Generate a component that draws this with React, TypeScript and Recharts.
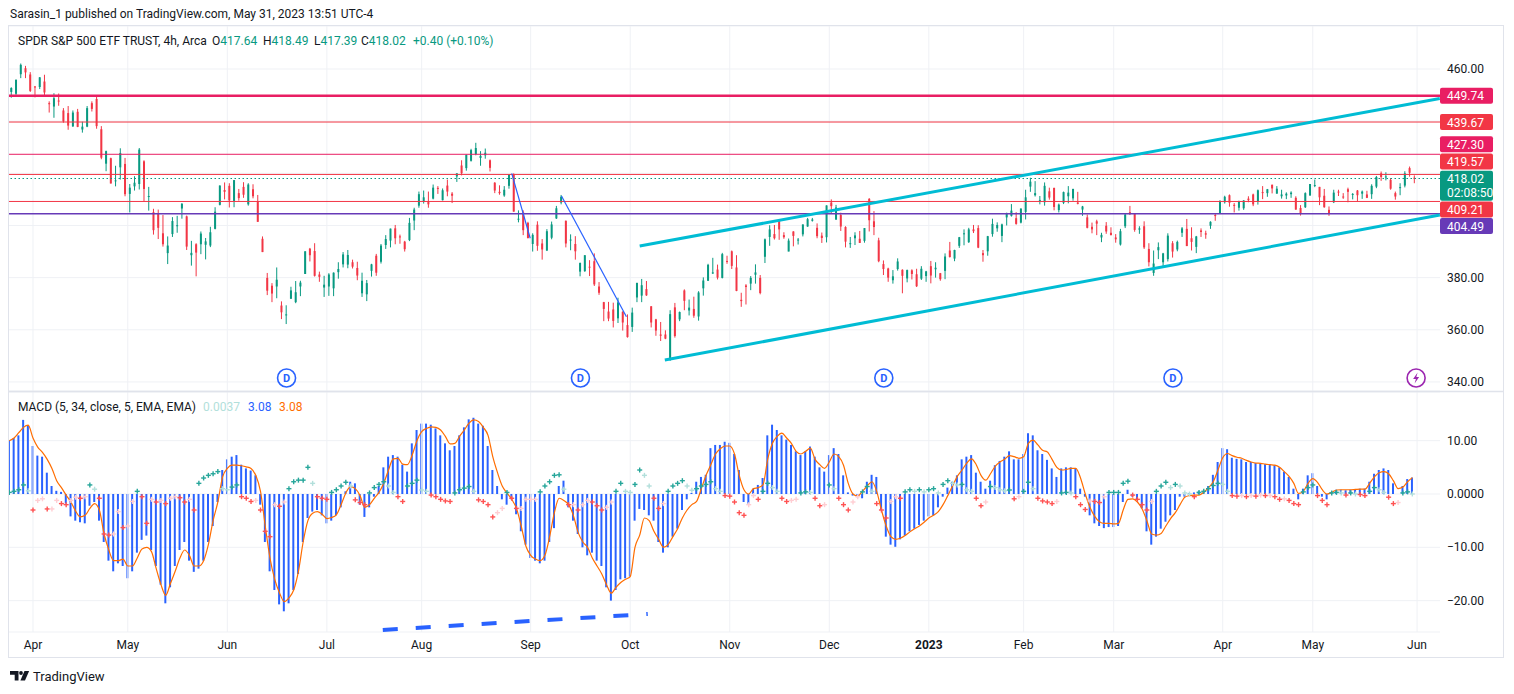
import React from 'react';
import {
  ComposedChart, Bar, Line, Scatter, XAxis, YAxis, CartesianGrid, ReferenceLine, ReferenceDot,
} from 'recharts';

const FONT = 'Roboto, "Open Sans", "DejaVu Sans", sans-serif';
const TEXT = '#131722';
const UP = '#089981';
const DOWN = '#f23645';
const GRID = '#eff1f5';

// ---------- Daily candles [open, high, low, close]; first row = trading day -5 (25 Mar 2022) ----------
const ohlcMar22 = [
  [451.2, 453.0, 449.0, 452.7], [450.5, 455.9, 449.5, 455.9], [458.0, 462.1, 456.5, 461.6], [460.3, 461.2, 456.5, 458.7], [457.9, 458.8, 451.2, 451.6],
];
const ohlcApr22 = [
  [453.3, 453.5, 449.1, 452.9], [453.1, 456.9, 452.3, 456.8], [455.2, 457.8, 449.8, 451.0], [446.9, 447.6, 443.3, 446.5], [445.6, 450.7, 441.3, 448.8],
  [447.9, 450.6, 445.9, 447.6], [444.1, 445.0, 439.4, 439.9], [443.1, 445.8, 436.7, 438.3], [438.0, 444.1, 437.8, 443.3], [443.6, 444.7, 437.7, 437.8],
  [436.8, 439.8, 435.6, 437.9], [437.9, 445.8, 437.7, 445.0], [446.9, 447.6, 443.7, 444.7], [448.5, 450.0, 437.1, 438.1], [436.9, 438.1, 425.4, 426.0],
  [423.7, 428.7, 420.8, 428.5], [425.8, 426.0, 416.1, 416.1], [417.2, 422.9, 415.0, 417.3], [422.3, 429.6, 417.6, 427.8], [423.6, 425.9, 411.2, 412.0],
];
const ohlcMay22 = [
  [412.1, 415.9, 405.0, 414.5], [415.0, 418.9, 413.4, 416.4], [415.9, 429.7, 413.8, 429.1], [424.6, 425.0, 409.4, 414.0], [411.1, 414.8, 405.7, 411.3],
  [405.1, 406.4, 396.5, 398.2], [404.5, 406.1, 394.8, 399.1], [397.0, 404.0, 391.9, 392.8], [389.4, 395.8, 385.2, 392.3], [396.7, 403.2, 395.6, 401.7],
  [399.9, 403.7, 397.2, 400.1], [406.5, 408.6, 402.6, 408.3], [403.5, 403.8, 390.6, 391.9], [388.6, 394.1, 384.6, 389.5], [392.8, 393.2, 380.5, 389.6],
  [392.8, 397.7, 389.0, 396.9], [392.6, 395.2, 387.0, 393.9], [392.3, 399.5, 391.7, 397.4], [398.7, 407.0, 398.5, 405.3], [407.9, 415.4, 407.7, 415.3],
  [413.6, 416.5, 410.0, 412.9],
];
const ohlcJun22 = [
  [415.2, 416.2, 406.9, 409.6], [409.4, 417.4, 407.0, 417.4], [412.4, 414.0, 409.5, 410.5], [414.8, 416.6, 410.6, 411.8], [408.1, 416.2, 407.6, 415.7],
  [413.9, 415.8, 410.4, 411.2], [409.3, 411.7, 401.4, 401.4], [394.9, 395.8, 389.8, 389.8], [379.9, 381.8, 373.3, 375.0], [376.9, 377.9, 370.6, 373.9],
  [376.6, 383.9, 372.1, 379.2], [369.3, 370.9, 364.1, 366.7], [365.6, 369.4, 362.2, 365.9], [371.9, 376.5, 371.8, 375.1], [370.6, 378.7, 370.2, 374.4],
  [376.6, 378.8, 372.9, 378.1], [381.4, 390.1, 381.4, 390.1], [391.1, 391.4, 386.2, 388.6], [390.2, 393.2, 380.4, 380.7], [381.2, 382.3, 378.4, 380.3],
  [376.2, 380.7, 372.6, 377.3],
];
const ohlcJul22 = [
  [376.6, 381.7, 373.0, 381.2], [375.9, 382.0, 372.9, 381.9], [382.1, 385.9, 379.6, 383.3], [385.1, 389.8, 383.9, 388.9], [385.0, 390.6, 383.6, 388.7],
  [385.9, 386.9, 383.5, 384.2], [383.7, 386.1, 379.0, 380.8], [374.0, 381.9, 372.6, 378.8], [373.6, 379.1, 371.0, 377.9], [382.6, 385.3, 380.4, 385.1],
  [388.4, 389.1, 380.7, 381.9], [386.1, 392.9, 385.4, 392.3], [392.5, 396.3, 391.0, 394.8], [394.2, 398.8, 391.6, 398.8], [398.9, 400.2, 392.8, 395.1],
  [395.8, 396.5, 393.0, 395.6], [393.8, 394.1, 390.0, 390.9], [394.4, 402.9, 394.0, 401.0], [401.9, 406.8, 398.2, 406.1], [407.6, 413.0, 406.8, 412.0],
];
const ohlcAug22 = [
  [409.2, 413.4, 408.4, 410.8], [409.1, 413.0, 406.8, 408.1], [410.3, 415.7, 410.0, 414.5], [414.4, 415.1, 412.1, 414.2], [409.7, 414.2, 409.6, 413.5],
  [415.3, 417.6, 411.2, 413.0], [412.2, 412.8, 408.6, 411.4], [418.8, 420.0, 416.7, 420.0], [423.0, 425.0, 419.2, 420.0], [422.0, 427.2, 421.0, 427.1],
  [424.8, 429.4, 424.5, 428.9], [427.4, 431.7, 426.9, 429.7], [425.9, 428.5, 422.9, 426.7], [426.9, 429.5, 425.6, 427.9], [425.0, 425.3, 420.7, 422.1],
  [416.4, 416.6, 412.4, 413.4], [412.9, 415.4, 411.8, 412.4], [411.5, 415.1, 411.0, 413.7], [415.2, 419.6, 414.1, 419.5], [419.4, 420.0, 405.3, 405.3],
  [402.2, 405.8, 401.2, 402.6], [405.0, 405.8, 396.3, 398.2], [401.0, 401.4, 395.0, 395.2],
];
const ohlcSep22 = [
  [392.9, 397.0, 390.0, 396.4], [400.3, 401.6, 390.3, 392.2], [393.1, 394.8, 386.9, 390.8], [390.4, 398.6, 390.2, 397.8], [395.3, 401.5, 394.7, 400.4],
  [402.7, 407.5, 402.5, 406.6], [408.8, 411.7, 408.1, 411.0], [401.8, 401.9, 391.6, 393.1], [394.5, 396.6, 390.5, 394.6], [392.9, 395.9, 386.9, 390.1],
  [382.3, 385.8, 380.5, 385.6], [382.5, 388.6, 382.2, 388.6], [384.2, 386.7, 380.6, 384.1], [386.3, 389.3, 376.8, 377.4], [376.6, 378.3, 373.4, 374.2],
  [370.6, 370.7, 363.3, 368.0], [367.0, 370.7, 363.3, 364.3], [367.8, 370.4, 360.9, 363.4], [364.4, 372.3, 362.6, 370.5], [366.9, 367.1, 359.7, 362.8],
  [361.8, 365.9, 357.0, 357.2],
];
const ohlcOct22 = [
  [361.1, 368.5, 359.2, 366.6], [372.4, 378.0, 370.6, 378.0], [373.1, 379.5, 370.6, 377.1], [375.6, 378.7, 373.0, 373.2], [369.0, 369.1, 360.9, 362.8],
  [364.0, 364.2, 357.7, 359.7], [358.2, 363.0, 355.7, 357.7], [358.2, 359.8, 356.4, 356.6], [349.2, 367.5, 348.1, 366.0], [368.6, 370.3, 357.0, 357.6],
  [364.0, 367.0, 363.3, 366.8], [375.1, 375.5, 367.5, 371.1], [367.4, 371.6, 365.5, 368.5], [368.0, 372.7, 364.6, 365.4], [365.1, 374.8, 363.5, 374.3],
  [375.9, 380.1, 373.1, 378.9], [378.8, 385.3, 378.7, 384.9], [381.6, 387.6, 381.4, 382.0], [383.1, 385.0, 379.3, 380.0], [379.9, 389.5, 379.7, 389.0],
  [386.4, 388.4, 385.3, 386.2],
];
const ohlcNov22 = [
  [390.1, 390.4, 383.3, 384.5], [383.9, 388.6, 374.8, 374.9], [371.5, 374.2, 368.8, 371.0], [377.0, 377.5, 369.7, 376.4], [377.7, 380.6, 375.2, 379.9],
  [381.1, 385.1, 377.7, 382.0], [379.9, 381.0, 373.6, 374.1], [388.0, 395.0, 385.6, 394.7], [395.6, 400.1, 392.2, 398.5], [396.7, 400.2, 394.6, 395.1],
  [401.7, 402.3, 394.5, 398.5], [396.3, 397.4, 394.9, 395.5], [390.0, 395.0, 390.1, 394.2], [397.7, 397.8, 392.0, 396.0], [394.6, 395.2, 392.7, 394.6],
  [396.6, 400.4, 395.8, 400.4], [399.6, 402.9, 399.5, 402.4], [401.8, 402.9, 401.5, 402.3], [399.1, 400.8, 395.1, 395.9], [396.1, 397.3, 393.3, 395.2],
  [395.5, 407.7, 393.5, 407.7],
];
const ohlcDec22 = [
  [408.8, 410.0, 404.8, 407.4], [402.3, 407.9, 402.1, 406.9], [404.0, 404.9, 397.9, 399.6], [399.4, 399.7, 391.6, 393.8], [392.9, 395.6, 391.4, 393.2],
  [395.1, 397.4, 392.5, 396.2], [394.9, 397.9, 393.3, 393.3], [394.1, 399.0, 393.4, 399.0], [410.2, 410.5, 397.7, 402.0], [401.6, 405.5, 396.3, 399.4],
  [394.3, 395.3, 385.9, 386.3], [385.2, 386.6, 381.0, 383.3], [383.5, 383.8, 378.4, 380.0], [379.0, 382.9, 377.7, 380.5], [383.3, 387.4, 382.7, 386.2],
  [383.0, 383.2, 374.0, 380.7], [379.7, 383.1, 378.2, 382.9], [382.8, 383.2, 379.3, 381.4], [381.3, 383.4, 376.4, 376.7], [379.6, 384.4, 379.1, 383.4],
  [380.6, 382.6, 378.4, 382.4],
];
const ohlcJan23 = [
  [384.4, 386.4, 377.8, 380.8], [383.2, 385.9, 380.0, 383.8], [381.7, 381.8, 378.8, 379.4], [382.6, 389.3, 379.4, 388.1], [390.4, 393.7, 387.7, 387.9],
  [387.3, 390.7, 386.3, 390.6], [392.2, 395.6, 391.4, 395.5], [396.7, 398.5, 392.4, 397.0], [393.6, 399.1, 393.3, 398.5], [398.5, 400.2, 397.1, 397.8],
  [399.0, 400.1, 391.3, 391.5], [389.4, 390.6, 386.1, 388.6], [390.1, 396.0, 388.4, 395.9], [396.7, 402.6, 395.7, 400.6], [398.9, 401.2, 397.6, 400.2],
  [396.0, 400.7, 393.6, 400.4], [403.1, 404.9, 400.0, 404.8], [403.7, 408.2, 403.4, 405.7], [402.8, 405.1, 400.3, 400.6], [401.1, 406.5, 400.8, 406.5],
];
const ohlcFeb23 = [
  [405.2, 413.7, 402.3, 410.8], [414.9, 418.3, 412.9, 416.8], [411.6, 417.0, 411.1, 412.4], [409.8, 411.3, 408.1, 409.8], [408.9, 416.5, 407.6, 415.2],
  [413.1, 414.5, 409.9, 410.7], [414.4, 414.5, 405.8, 407.1], [405.9, 408.4, 405.0, 408.0], [408.7, 413.0, 408.2, 412.8], [411.2, 415.1, 408.5, 412.6],
  [410.4, 414.1, 409.5, 414.0], [408.8, 412.9, 408.1, 408.3], [406.1, 407.5, 403.7, 407.3], [403.1, 404.2, 398.9, 399.1], [399.5, 401.1, 397.0, 398.5],
  [401.6, 402.2, 396.3, 400.7], [395.4, 397.2, 393.6, 396.4], [399.9, 401.3, 396.8, 397.7], [397.2, 399.3, 396.2, 396.3],
];
const ohlcMar23 = [
  [395.4, 396.7, 393.4, 394.7], [392.7, 398.7, 392.3, 397.8], [399.7, 404.5, 399.0, 404.2], [405.1, 407.5, 404.0, 404.5], [404.4, 404.7, 397.6, 398.3],
  [398.4, 399.7, 396.8, 398.9], [399.7, 401.6, 391.0, 391.6], [391.0, 393.2, 384.3, 385.9], [381.8, 390.4, 380.7, 385.4], [390.5, 393.5, 387.1, 391.7],
  [385.9, 389.5, 383.7, 389.3], [387.1, 397.0, 386.2, 396.1], [393.2, 394.0, 387.7, 390.0], [390.8, 394.2, 390.1, 393.7], [397.2, 399.4, 395.6, 398.9],
  [398.7, 402.5, 392.1, 392.1], [395.1, 399.3, 390.4, 393.7], [391.8, 396.0, 389.4, 395.8], [398.1, 398.9, 395.6, 397.5], [397.0, 398.0, 394.9, 396.5],
  [399.9, 401.6, 398.7, 401.4], [404.0, 404.6, 401.8, 403.7], [404.7, 409.7, 404.5, 409.4],
];
const ohlcApr23 = [
  [408.9, 411.4, 408.4, 411.0], [411.6, 411.9, 407.2, 408.7], [407.9, 408.6, 405.0, 407.6], [406.8, 409.5, 405.7, 409.2], [406.6, 409.7, 406.0, 409.6],
  [410.3, 411.2, 408.9, 409.7], [411.9, 412.2, 407.4, 408.1], [409.2, 413.8, 408.0, 413.5], [412.8, 415.1, 410.1, 412.5], [412.4, 414.0, 411.0, 413.9],
  [415.6, 415.7, 412.3, 414.2], [412.2, 415.1, 412.2, 414.1], [411.2, 413.7, 410.3, 411.9], [411.5, 412.7, 410.1, 412.2], [412.0, 413.1, 410.6, 412.6],
  [410.6, 411.2, 406.0, 406.1], [406.7, 407.8, 403.8, 404.4], [407.0, 412.7, 406.7, 412.4], [411.5, 415.9, 411.4, 415.9],
];
const ohlcMay23 = [
  [415.5, 417.6, 414.7, 415.5], [414.8, 414.8, 407.8, 410.8], [411.4, 414.0, 406.8, 407.0], [406.0, 407.3, 403.7, 404.4], [408.9, 413.7, 408.6, 412.6],
  [413.0, 413.7, 411.3, 412.9], [411.1, 412.4, 410.2, 411.0], [413.9, 414.5, 408.9, 412.9], [412.0, 412.4, 410.0, 412.1], [413.4, 413.6, 409.2, 411.6],
  [412.2, 413.4, 410.2, 413.0], [411.9, 413.3, 410.5, 410.6], [412.0, 415.8, 410.2, 415.2], [414.9, 419.0, 414.3, 418.6], [420.0, 420.7, 417.1, 418.6],
  [418.6, 420.4, 417.3, 418.8], [417.5, 418.2, 413.7, 414.1], [412.4, 413.0, 409.9, 411.1], [414.7, 416.2, 411.6, 414.7], [415.3, 420.8, 414.6, 420.0],
  [422.0, 422.6, 418.7, 420.2], [418.3, 419.2, 416.2, 418.02],
];

// ---------- MACD (5, 34, close, 5): MACD (blue columns), signal (orange), histogram (crosses) ----------
const macdMar22 = [10.1, 10.5, 11, 13.9, 12.9];
const macdApr22 = [9, 7.2, 7, 4, 1.5, 0.6, 0.4, -1.8, -4.2, -5, -5.3, -5.5, -2.2, -1.5, -5, -9, -12.5, -14.5, -13, -13.5];
const macdMay22 = [-15.8, -14.5, -11, -8.6, -7.8, -10.5, -13.5, -17, -20.5, -17.5, -13.5, -10.5, -9, -12.5, -14.6, -14, -12.5, -9, -6, -1.5, 4.5];
const macdJun22 = [6.5, 7, 7.3, 5.5, 4.8, 4.4, 3.5, -2, -9, -14.5, -18, -20.7, -22, -20.5, -18, -15, -9, -4.5, -3.3, -3, -4];
const macdJul22 = [-5.5, -5, -4, -2.5, 0.5, 2.3, 2, -2, -4.3, -2.5, -0.5, 1.5, 5, 7, 7.3, 7, 5.5, 4.2, 9.5, 12];
const macdAug22 = [13.2, 13.2, 13, 12.3, 11, 9.5, 8.2, 9, 11, 12.5, 14, 14.3, 13.2, 12.8, 9, 4.5, 1.5, -1, -2, -1, -3.8, -7, -9.5];
const macdSep22 = [-12, -12.5, -13, -12.5, -9, -6.4, 1.5, 2.5, -2.5, -5, -7.5, -10, -11.5, -11, -12.5, -13.5, -17.5, -20, -18, -16, -15.8];
const macdOct22 = [-15.5, -5, -2.8, -3, -4, -5, -9, -11, -10, -8, -6.5, -3, -1, 0.2, 2.3, 3.2, 3.6, 8.6, 9.2, 9.2, 9.8];
const macdNov22 = [9.6, 7.5, 4.5, -1.5, -1.8, 1, 1.7, 3, 11, 13, 12, 11, 10.2, 9.2, 8, 7.3, 8, 8.9, 7, 5, 4.2];
const macdDec22 = [7.3, 8.6, 7.5, 3.5, 0.3, -0.3, -0.6, -0.8, 2.3, 3.6, 3.2, -3, -8, -9.5, -9.9, -8.5, -7.8, -7, -6.5, -5.8, -5];
const macdJan23 = [-4.2, -4, -2.5, -0.5, 1.2, 2.3, 3.5, 6.5, 7, 7.3, 4, 2.3, 1, 2.5, 5.4, 6.2, 7, 8, 6.5, 6.5];
const macdFeb23 = [7.5, 11.4, 11, 8.2, 7.5, 6.4, 4.8, 3.2, 4.8, 5, 5, 4.8, 1, -0.5, -4, -5.5, -6, -6.4, -6.2];
const macdMar23 = [-6.2, -6, -1.5, 0.8, -0.5, -1, -2.7, -7, -9.5, -8, -6.5, -5.2, -4, -3, -0.5, -0.5, 0.2, 0.3, 0.5, 0.6, 1.5, 3.6, 6];
const macdApr23 = [8.6, 8.4, 6.8, 6.6, 6.5, 6, 6, 5.8, 5.7, 5.6, 5.6, 5.4, 5, 4.2, 3.2, 1, -1, 1, 3.5];
const macdMay23 = [3.9, 1.5, -0.5, -1, 0.4, 0.8, 0.8, 0.7, 0.8, 0.9, 1, 1, 2.3, 3.8, 4.5, 4.8, 4.5, 2, 0, 1.5, 2.8, 3.08];

const sigMar22 = [10, 10.5, 11.5, 12.5, 12.9];
const sigApr22 = [10.5, 8.8, 7.8, 6.5, 4.8, 2.5, 1.2, -0.2, -1.5, -3.2, -4.3, -4, -2.7, -1.8, -3, -7.5, -10.5, -12.5, -12.5, -12.2];
const sigMay22 = [-13.5, -13.5, -12, -10.3, -10, -10.8, -14, -17, -19, -16.8, -14.5, -12, -10.5, -11.5, -13.5, -13.5, -12.5, -9.5, -5, -1.5, 3.2];
const sigJun22 = [4.8, 5.4, 5.4, 5.3, 5.1, 4.8, 3.5, 0.5, -6, -12, -16, -18.5, -20.2, -19.5, -18, -14.5, -9, -5, -3.6, -3.3, -3.8];
const sigJul22 = [-4.6, -4.4, -3.9, -2, 0.2, 1.4, 1, -0.3, -2.5, -2, -0.8, 0.3, 2, 4.5, 6.6, 6.7, 5.6, 5.5, 7.3, 10];
const sigAug22 = [11.7, 12.3, 12.6, 12.5, 12, 10.8, 9.4, 9.5, 10.8, 12, 13.3, 13.9, 13.6, 12.5, 11, 7, 4, 1.5, 0.2, -1, -2.7, -6, -9.8];
const sigSep22 = [-11.5, -12.2, -12.5, -11.5, -8, -3.5, -0.8, -1.2, -2, -4, -7.2, -9, -10, -12, -13.5, -15, -17, -18.6, -17.5, -16.6, -16];
const sigOct22 = [-15.5, -10, -7.7, -4.5, -5, -7, -8.5, -10, -9.5, -8, -6.5, -4.5, -3, -2, -1.4, 1, 3.5, 5.5, 7.5, 8.5, 9];
const sigNov22 = [9, 7.5, 3.5, 0.8, 0, 1, 1.2, 1.7, 6.5, 9.5, 10.8, 11.4, 10.5, 9.5, 8, 7.5, 8, 8.6, 6.5, 5.5, 4.8];
const sigDec22 = [6, 7.5, 7, 5.4, 2, 0, -0.4, 0.5, 1.5, 2.3, 0.5, -3, -6, -8, -8.5, -8.3, -7.8, -7.1, -6.5, -6, -5.3];
const sigJan23 = [-4.5, -4, -3.3, -2, -0.3, 1.5, 3.3, 4.5, 5.8, 6.6, 5.5, 3.5, 2.6, 3.8, 5.2, 6, 6.5, 7.2, 7, 6.7];
const sigFeb23 = [7, 9.5, 10.1, 9.2, 8.2, 7.9, 6.5, 5, 4.5, 4.6, 4.8, 4.8, 3, 0, -2.5, -4.2, -5.2, -5.5, -5.5];
const sigMar23 = [-5.6, -5.5, -3, -1, -0.9, -1.5, -2.8, -5, -7.5, -7.7, -7.4, -6, -4.6, -3.5, -2, -0.6, -0.3, -0.2, -0.2, 0.3, 1.2, 2.3, 4.5];
const sigApr23 = [6.8, 7.6, 7.2, 6.9, 6.7, 6.3, 6, 5.8, 5.75, 5.6, 5.5, 5.4, 5, 4.2, 3.3, 2, 0.1, 0.5, 2];
const sigMay23 = [2.9, 2.2, 0.8, 0, 0.3, 0.75, 0.8, 0.8, 0.8, 0.85, 0.9, 0.9, 2, 3.2, 4, 4.2, 3.8, 2.5, 1, 1.3, 2.3, 3.08];

const histMar22 = [0.3, 0.5, 0.8, 1.7, 0.6];
const histApr22 = [-3, -1.2, -0.9, -2.8, -2.8, -1.2, -1.8, -2, -1.2, -0.6, -0.8, -0.5, 1.7, 0.9, -0.8, -7.5, -7.7, -7.5, -3.3, -6.3];
const histMay22 = [-6, -1.4, 0.5, -0.5, -5.5, -1, -1.5, -1.2, -1.8, -0.8, -0.5, -0.7, -1.5, -1, -3, 2, 3, 3.5, 3.8, 4.2, 1];
const histJun22 = [0.8, 1.3, 1.7, -0.5, -0.8, -1.4, -1.2, -3, -7, -8, -2, -2.3, -1.5, 1, 2.3, 2.6, 2.6, 5, 2, -0.5, -0.8];
const histJul22 = [-1, 0.3, 0.8, 1.5, 2.2, 1.5, -1.1, -1.6, -2, 0.2, 1.2, 1.8, 2.3, 1.5, 0.3, -0.5, -1.4, 1.5, 2, 2.6];
const histAug22 = [0.75, 0.5, -0.2, -0.5, -1, -1.3, -1.4, 0.2, 0.8, 1.1, 1.4, 0.5, -1.1, -1.4, -2, -4.3, -3.5, -2.7, 0.3, -0.8, -2.7, -2.7, -1];
const histSep22 = [-1, -1, 0.4, 1.5, 2.3, 3.5, 3.6, 0.9, -2, -2, -3, -2, -1.2, -1.5, -2.2, -3, -2.5, -1.5, 0.5, 2, 0.5];
const histOct22 = [0.3, 1.8, 4.5, 3.5, 1.5, -0.8, -2.7, -1.8, 0.5, 1.5, 2, 2.5, 1.5, 0.7, 1, 1.5, 1.8, 2.3, 1, 0.5, -0.3];
const histNov22 = [-0.4, -1.5, -3.5, -4, -2, -0.3, -1, 0.5, 2, 1.2, 0.5, -0.8, -1.4, -1.2, -1, 0.2, 0.4, 0.3, -0.8, -2.2, -2];
const histDec22 = [1.7, 1, -0.8, -2, -3, -1.5, -0.5, 0.4, 1.4, 0.5, -1.8, -3, -4.5, -1.4, -0.5, -0.8, 0.4, 0.8, 0.5, 0.8, 0.4];
const histJan23 = [0.8, 1, 0.2, 1.8, 2.5, 2, 1.7, 1.8, 0.8, 0.5, -0.8, -2.2, -1.5, 1.4, 1.2, 0.8, 0.6, 0.75, -0.9, -0.5];
const histFeb23 = [0.5, 2.2, 1, -0.8, -1.3, -1.5, -1.8, -1.4, 0.2, 0.3, 0.2, -0.5, -2, -2.9, -1.3, -1.4, -1.6, -0.5, 0.3];
const histMar23 = [0.3, 0.3, 2, 2.4, -0.2, -1, -2, -3, -1.4, 0.5, 1.5, 2.2, 1.2, 1.8, 1.5, 0.2, 0, -0.5, 0.3, 0.5, 1, 1.6, 2];
const histApr23 = [1.8, 0.5, -0.3, -0.4, -0.3, -0.5, -0.3, -0.4, -0.2, -0.3, -0.3, -0.5, -1, -0.9, -1.2, -1.8, -2, 0.4, 1.2];
const histMay23 = [1.7, -0.3, -1.2, -2, 0.2, 0.3, 0.2, -0.2, 0.2, 0, -0.1, -0.3, 0.5, 1.2, 0.8, 0.3, -0.6, -1.8, -1.6, 0.2, 0.4, 0.0037];

// ---------- axes / annotations ----------
const FIRST_DAY = -5;
const monthTicks = [0, 20, 41, 62, 82, 105, 126, 147, 168, 189, 209, 228, 251, 270, 292];
const monthLabels = ['Apr', 'May', 'Jun', 'Jul', 'Aug', 'Sep', 'Oct', 'Nov', 'Dec', '2023', 'Feb', 'Mar', 'Apr', 'May', 'Jun'];
const priceTicks = [340, 360, 380, 400, 420, 440, 460];
const priceTickLabels = [340, 360, 380, 460];
const macdTicks = [-20, -10, 0, 10];
const macdTickLabels = ['\u221220.00', '\u221210.00', '0.0000', '10.00'];
const dividendDays = [53, 115, 179, 240];
const eventDay = 291.8;
const levelValues = [449.74, 439.67, 427.30, 419.57, 409.21, 404.49];
const levelColors = ['#e91e63', '#f23645', '#e91e63', '#f23645', '#f23645', '#673ab7'];
const lastPrice = 418.02;
const upperChannel = [{ x: 128.0, y: 392.1 }, { x: 296.8, y: 448.7 }];
const lowerChannel = [{ x: 133.3, y: 348.4 }, { x: 296.8, y: 404.0 }];
const drawLine1 = [{ x: 101.0, y: 420.0 }, { x: 104.9, y: 395.1 }];
const drawLine2 = [{ x: 111.5, y: 411.3 }, { x: 125.2, y: 365.0 }];
const macdDashLine = [{ x: 73.8, y: -25.5 }, { x: 129.7, y: -22.5 }];

const ohlc = [
  ...ohlcMar22, ...ohlcApr22, ...ohlcMay22, ...ohlcJun22, ...ohlcJul22, ...ohlcAug22, ...ohlcSep22, ...ohlcOct22,
  ...ohlcNov22, ...ohlcDec22, ...ohlcJan23, ...ohlcFeb23, ...ohlcMar23, ...ohlcApr23, ...ohlcMay23,
];
const macd = [
  ...macdMar22, ...macdApr22, ...macdMay22, ...macdJun22, ...macdJul22, ...macdAug22, ...macdSep22, ...macdOct22,
  ...macdNov22, ...macdDec22, ...macdJan23, ...macdFeb23, ...macdMar23, ...macdApr23, ...macdMay23,
];
const signal = [
  ...sigMar22, ...sigApr22, ...sigMay22, ...sigJun22, ...sigJul22, ...sigAug22, ...sigSep22, ...sigOct22,
  ...sigNov22, ...sigDec22, ...sigJan23, ...sigFeb23, ...sigMar23, ...sigApr23, ...sigMay23,
];
const hist = [
  ...histMar22, ...histApr22, ...histMay22, ...histJun22, ...histJul22, ...histAug22, ...histSep22, ...histOct22,
  ...histNov22, ...histDec22, ...histJan23, ...histFeb23, ...histMar23, ...histApr23, ...histMay23,
];

const priceData = ohlc.map((c, i) => ({ x: FIRST_DAY + i + 0.5, o: c[0], h: c[1], l: c[2], c: c[3] }));
const macdData = macd.map((m, i) => {
  const h = hist[i];
  const prev = i > 0 ? hist[i - 1] : h;
  const hc = h >= 0 ? (h >= prev ? '#26a69a' : '#b2dfdb') : (h < prev ? '#ff5252' : '#ffcdd2');
  return { x: FIRST_DAY + i, m, s: signal[i], h, hc };
});

// layout
const X_MIN = -5.27;
const X_MAX = 296.84;
const P_MIN = 336.53;
const P_MAX = 476.49;
const M_MIN = -25.88;
const M_MAX = 19.13;

const Candle = (props: any) => {
  const { x, y, width, height, payload } = props;
  if (!payload || !isFinite(y) || !isFinite(height)) return null;
  const { o, h, l, c } = payload;
  const top = Math.min(y, y + height);
  const bottom = Math.max(y, y + height);
  const span = h - l || 1;
  const py = (v: number) => top + ((h - v) / span) * (bottom - top);
  const cx = x + width / 2;
  const color = c >= o ? UP : DOWN;
  const bt = py(Math.max(o, c));
  const bb = py(Math.min(o, c));
  return (
    <g>
      <line x1={cx} x2={cx} y1={top} y2={bottom} stroke={color} strokeWidth={1} />
      <rect x={cx - 1} y={bt} width={2} height={Math.max(1, bb - bt)} fill={color} />
    </g>
  );
};

const Cross = (props: any) => {
  const { cx, cy, payload } = props;
  if (!isFinite(cx) || !isFinite(cy)) return null;
  const col = payload && payload.hc ? payload.hc : '#26a69a';
  return (
    <g stroke={col} strokeWidth={1.4}>
      <line x1={cx - 2.5} x2={cx + 2.5} y1={cy} y2={cy} />
      <line x1={cx} x2={cx} y1={cy - 2.5} y2={cy + 2.5} />
    </g>
  );
};

const PriceTick = (p: any) => {
  const v = p.payload && p.payload.value;
  if (!priceTickLabels.includes(v)) return <g />;
  return (
    <text x={p.x + 7} y={p.y} dominantBaseline="central" fontSize={12} fill={TEXT} fontFamily={FONT}>
      {v.toFixed(2)}
    </text>
  );
};

const MacdTick = (p: any) => {
  const v = p.payload && p.payload.value;
  const i = macdTicks.indexOf(v);
  return (
    <text x={p.x + 7} y={p.y} dominantBaseline="central" fontSize={12} fill={TEXT} fontFamily={FONT}>
      {i >= 0 ? macdTickLabels[i] : ''}
    </text>
  );
};

const MonthTick = (p: any) => {
  const i = monthTicks.indexOf(p.payload && p.payload.value);
  const label = i >= 0 ? monthLabels[i] : '';
  return (
    <text x={p.x} y={p.y + 13} textAnchor="middle" dominantBaseline="central" fontSize={12} fill={TEXT}
      fontFamily={FONT} fontWeight={label === '2023' ? 700 : 400}>
      {label}
    </text>
  );
};

const PriceTag = (props: any) => {
  const { viewBox, text, sub, color, shift = 0 } = props;
  if (!viewBox) return null;
  const x = viewBox.x + viewBox.width;
  const h = sub ? 30 : 16;
  const top = sub ? viewBox.y - 7.7 : viewBox.y + shift - 8;
  return (
    <g>
      <rect x={x} y={top} width={53} height={h} rx={2} fill={color} />
      <text x={x + 7} y={top + 8.5} fill="#fff" fontSize={12} dominantBaseline="central" fontFamily={FONT}>{text}</text>
      {sub ? (
        <text x={x + 7} y={top + 22.5} fill="#fff" fontSize={12} dominantBaseline="central" fontFamily={FONT}>{sub}</text>
      ) : null}
    </g>
  );
};

const tagShifts = [0, 0, -10, -13, 8, 12.3];

const DivMarker = (p: any) => (
  <g>
    <circle cx={p.cx} cy={p.cy} r={9} fill="#fff" stroke="#2962ff" strokeWidth={1.6} />
    <text x={p.cx} y={p.cy + 0.5} textAnchor="middle" dominantBaseline="central" fontSize={11} fontWeight={700}
      fill="#2962ff" fontFamily={FONT}>D</text>
  </g>
);

const EventMarker = (p: any) => {
  const { cx, cy } = p;
  return (
    <g>
      <circle cx={cx} cy={cy} r={9} fill="#fff" stroke="#9c27b0" strokeWidth={1.6} />
      <path d={`M${cx + 1.5} ${cy - 5.5} L${cx - 3} ${cy + 1} L${cx - 0.2} ${cy + 1} L${cx - 1.5} ${cy + 5.5} L${cx + 3} ${cy - 1} L${cx + 0.2} ${cy - 1} Z`}
        fill="#9c27b0" />
    </g>
  );
};

const Tag = ({ x, y, children, fill = TEXT, weight = 400, size = 12 }: any) => (
  <text x={x} y={y} fill={fill} fontSize={size} fontWeight={weight} dominantBaseline="central" fontFamily={FONT}>
    {children}
  </text>
);

export default function App() {
  return (
    <div style={{ position: 'absolute', left: 0, top: 0, width: 1514, height: 694, background: '#fff', overflow: 'hidden', fontFamily: FONT }}>
      {/* price pane */}
      <div style={{ position: 'absolute', left: 8, top: 26 }}>
        <ComposedChart width={1496} height={365} data={priceData} margin={{ top: 0, right: 0, bottom: 0, left: 0 }}>
          <CartesianGrid vertical={false} stroke={GRID} />
          <XAxis dataKey="x" type="number" domain={[X_MIN, X_MAX]} hide allowDataOverflow />
          <YAxis orientation="right" width={64} domain={[P_MIN, P_MAX]} ticks={priceTicks} axisLine={false}
            tickLine={false} tickSize={0} tickMargin={0} tick={(p: any) => <PriceTick {...p} />} allowDataOverflow
            interval={0} />
          {monthTicks.map((t) => <ReferenceLine key={'v' + t} x={t} stroke={GRID} />)}
          <Bar dataKey={(d: any) => [d.l, d.h]} shape={(p: any) => <Candle {...p} />} barSize={2} isAnimationActive={false} />
          {levelValues.map((v, i) => (
            <ReferenceLine key={'lv' + v} y={v} stroke={levelColors[i]} strokeWidth={i === 0 ? 2.6 : i === 5 ? 1.5 : 1}
              label={<PriceTag text={v.toFixed(2)} color={levelColors[i]} shift={tagShifts[i]} />} />
          ))}
          <ReferenceLine y={lastPrice} stroke={UP} strokeWidth={1.2} strokeDasharray="1.5 2.5"
            label={<PriceTag text={lastPrice.toFixed(2)} sub="02:08:50" color={UP} />} />
          <ReferenceLine segment={upperChannel} stroke="#00bcd4" strokeWidth={3} />
          <ReferenceLine segment={lowerChannel} stroke="#00bcd4" strokeWidth={3} />
          <ReferenceLine segment={drawLine1} stroke="#2962ff" strokeWidth={1.2} />
          <ReferenceLine segment={drawLine2} stroke="#2962ff" strokeWidth={1.2} />
          {dividendDays.map((d) => (
            <ReferenceDot key={'dv' + d} x={d + 0.5} y={341.5} r={9} shape={(p: any) => <DivMarker {...p} />} />
          ))}
          <ReferenceDot x={eventDay} y={341.5} r={9} shape={(p: any) => <EventMarker {...p} />} />
        </ComposedChart>
      </div>

      {/* MACD pane */}
      <div style={{ position: 'absolute', left: 8, top: 392 }}>
        <ComposedChart width={1496} height={266} data={macdData} margin={{ top: 0, right: 0, bottom: 0, left: 0 }}>
          <CartesianGrid vertical={false} stroke={GRID} />
          <XAxis dataKey="x" type="number" domain={[X_MIN, X_MAX]} ticks={monthTicks} interval={0} height={26}
            axisLine={false} tickLine={false} tickSize={0} tickMargin={0} tick={(p: any) => <MonthTick {...p} />}
            allowDataOverflow />
          <YAxis orientation="right" width={64} domain={[M_MIN, M_MAX]} ticks={macdTicks} interval={0} axisLine={false}
            tickLine={false} tickSize={0} tickMargin={0} tick={(p: any) => <MacdTick {...p} />} allowDataOverflow />
          {monthTicks.map((t) => <ReferenceLine key={'mv' + t} x={t} stroke={GRID} />)}
          <Bar dataKey="m" fill="#2962ff" barSize={2} isAnimationActive={false} />
          <Line dataKey="s" type="monotone" stroke="#ff6d00" strokeWidth={1.2} dot={false} isAnimationActive={false} />
          <Scatter dataKey="h" shape={(p: any) => <Cross {...p} />} isAnimationActive={false} />
          <ReferenceLine segment={macdDashLine} stroke="#2962ff" strokeWidth={4} strokeDasharray="15 18" />
        </ComposedChart>
      </div>

      {/* frame, legends, header */}
      <svg width={1514} height={694} style={{ position: 'absolute', left: 0, top: 0, pointerEvents: 'none' }}>
        <rect x={8.5} y={25.5} width={1495} height={632} fill="none" stroke="#e0e3eb" />
        <line x1={8} x2={1504} y1={391.5} y2={391.5} stroke="#e0e3eb" strokeWidth={1.5} />
        <Tag x={10} y={14} size={12}>Sarasin_1 published on TradingView.com, May 31, 2023 13:51 UTC-4</Tag>
        <Tag x={18} y={41}>SPDR S&amp;P 500 ETF TRUST, 4h, Arca</Tag>
        <text x={212} y={41} fontSize={12} dominantBaseline="central" fontFamily={FONT}>
          <tspan fill={TEXT}>O</tspan><tspan fill={UP}>417.64</tspan>
        </text>
        <text x={263} y={41} fontSize={12} dominantBaseline="central" fontFamily={FONT}>
          <tspan fill={TEXT}>H</tspan><tspan fill={UP}>418.49</tspan>
        </text>
        <text x={314} y={41} fontSize={12} dominantBaseline="central" fontFamily={FONT}>
          <tspan fill={TEXT}>L</tspan><tspan fill={UP}>417.39</tspan>
        </text>
        <text x={361} y={41} fontSize={12} dominantBaseline="central" fontFamily={FONT}>
          <tspan fill={TEXT}>C</tspan><tspan fill={UP}>418.02</tspan>
        </text>
        <Tag x={413} y={41} fill={UP}>+0.40 (+0.10%)</Tag>
        <Tag x={18} y={407}>MACD (5, 34, close, 5, EMA, EMA)</Tag>
        <Tag x={203} y={407} fill="#b2dfdb">0.0037</Tag>
        <Tag x={248} y={407} fill="#2962ff">3.08</Tag>
        <Tag x={279} y={407} fill="#ff6d00">3.08</Tag>
        {/* TradingView logo */}
        <g fill={TEXT}>
          <path d="M10 671 h8.5 v9.5 h-3.8 v-5.8 h-4.7 z" />
          <circle cx={21} cy={673} r={1.9} />
          <path d="M24.5 671 h4.6 l-4.1 9.5 h-4.6 z" />
        </g>
        <Tag x={33} y={676} size={13}>TradingView</Tag>
      </svg>
    </div>
  );
}
